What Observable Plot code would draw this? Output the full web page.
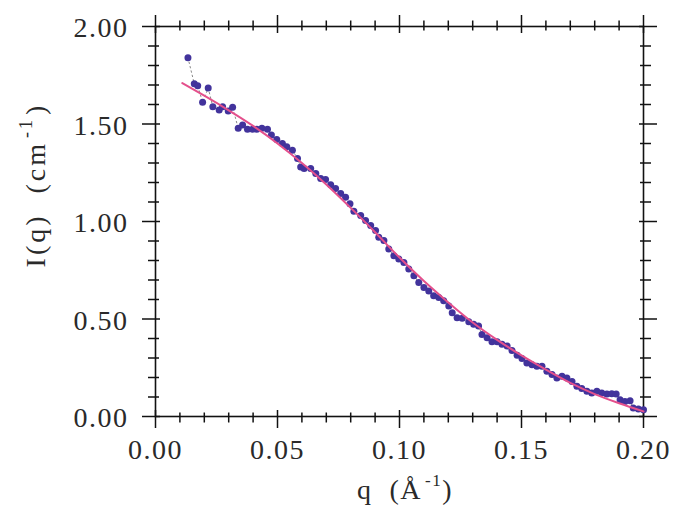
<!DOCTYPE html>
<html><head><meta charset="utf-8">
<script src="https://cdn.jsdelivr.net/npm/d3@7"></script>
<script src="https://cdn.jsdelivr.net/npm/@observablehq/plot@0.6"></script>
<style>body{margin:0;background:#fff}</style>
</head><body><div id="chart"></div>
<script>
// Measured scattering data: q (Å^-1) and I(q) (cm^-1)
const q = [0.0133,0.0159,0.0173,0.0193,0.0216,0.0235,0.0261,0.0275,0.0298,0.0316,
  0.0339,0.0357,0.0377,0.0398,0.0415,0.0436,0.0459,0.0475,0.0497,0.0520,
  0.0538,0.0561,0.0582,0.0595,0.0609,0.0636,0.0657,0.0677,0.0697,0.0718,
  0.0738,0.0759,0.0779,0.0797,0.0813,0.0841,0.0861,0.0882,0.0902,0.0915,
  0.0936,0.0956,0.0977,0.0997,0.1018,0.1038,0.1059,0.1079,0.1100,0.1120,
  0.1140,0.1161,0.1181,0.1202,0.1216,0.1236,0.1257,0.1284,0.1304,0.1324,
  0.1338,0.1359,0.1379,0.1400,0.1420,0.1441,0.1461,0.1482,0.1502,0.1522,
  0.1543,0.1563,0.1584,0.1604,0.1625,0.1645,0.1666,0.1686,0.1707,0.1727,
  0.1747,0.1768,0.1788,0.1809,0.1829,0.1850,0.1870,0.1888,0.1904,0.1924,
  0.1945,0.1958,0.1979,0.2000];
const intensity = [1.840,1.706,1.696,1.612,1.684,1.589,1.572,1.589,1.567,1.586,
  1.478,1.495,1.473,1.473,1.473,1.478,1.473,1.443,1.421,1.400,
  1.383,1.366,1.323,1.280,1.272,1.272,1.246,1.220,1.215,1.189,
  1.169,1.143,1.125,1.091,1.052,1.031,1.005,0.979,0.954,0.919,
  0.902,0.859,0.825,0.808,0.790,0.756,0.722,0.687,0.661,0.644,
  0.619,0.610,0.593,0.567,0.532,0.507,0.504,0.486,0.473,0.464,
  0.421,0.404,0.383,0.383,0.370,0.361,0.339,0.314,0.297,0.275,
  0.266,0.258,0.258,0.232,0.215,0.197,0.206,0.197,0.180,0.155,
  0.143,0.129,0.120,0.129,0.120,0.115,0.117,0.115,0.086,0.077,
  0.081,0.043,0.038,0.035];

// Fitted curve
const fitQ = [0.011,0.02,0.03,0.04,0.05,0.06,0.07,0.08,0.09,0.10,0.11,0.12,0.13,0.14,0.15,0.16,0.17,0.18,0.19,0.20];
const fitI = [1.71,1.645,1.57,1.49,1.40,1.30,1.19,1.07,0.945,0.815,0.695,0.585,0.482,0.393,0.313,0.24,0.172,0.115,0.068,0.026];

// Axis ticks and labels
const xMajor = [0, 0.05, 0.10, 0.15, 0.20];
const xMajorLabels = ["0.00","0.05","0.10","0.15","0.20"];
const xMinor = [0.01,0.02,0.03,0.04,0.06,0.07,0.08,0.09,0.11,0.12,0.13,0.14,0.16,0.17,0.18,0.19];
const yMajor = [0, 0.5, 1.0, 1.5, 2.0];
const yMajorLabels = ["0.00","0.50","1.00","1.50","2.00"];
const yMinor = [0.1,0.2,0.3,0.4,0.6,0.7,0.8,0.9,1.1,1.2,1.3,1.4,1.6,1.7,1.8,1.9];

const xLabelMain = "q\u00a0\u00a0(\u00c5";
const yLabelMain = "I(q)\u00a0\u00a0(cm";
const supText = "-1";
const closeParen = ")";

const data = q.map((d, i) => ({q: d, I: intensity[i]}));
const fit = fitQ.map((d, i) => ({q: d, I: fitI[i]}));

const tickStyle = {stroke: "#111", strokeWidth: 1.5, label: null, tickFormat: () => ""};

const chart = Plot.plot({
  width: 675,
  height: 507,
  marginLeft: 155,
  marginRight: 32,
  marginTop: 26,
  marginBottom: 91,
  style: {fontFamily: "'Liberation Serif', 'Times New Roman', serif", fontSize: "28px", letterSpacing: "1.5px", color: "#2a2a2a", background: "#fff"},
  x: {domain: [0, 0.2]},
  y: {domain: [0, 2]},
  marks: [
    Plot.frame({stroke: "#111", strokeWidth: 1.6}),
    // bottom
    Plot.axisX(xMajor, {...tickStyle, anchor: "bottom", tickSize: 18, dy: -6}),
    Plot.axisX(xMinor, {...tickStyle, anchor: "bottom", tickSize: 10, dy: -3.5}),
    // top
    Plot.axisX(xMajor, {...tickStyle, anchor: "top", tickSize: 18, dy: 6}),
    Plot.axisX(xMinor, {...tickStyle, anchor: "top", tickSize: 10, dy: 3.5}),
    // left
    Plot.axisY(yMajor, {...tickStyle, anchor: "left", tickSize: 18, dx: 5}),
    Plot.axisY(yMinor, {...tickStyle, anchor: "left", tickSize: 11, dx: 4}),
    // right
    Plot.axisY(yMajor, {...tickStyle, anchor: "right", tickSize: 18, dx: -5}),
    Plot.axisY(yMinor, {...tickStyle, anchor: "right", tickSize: 11, dx: -4}),
    // tick labels
    Plot.axisX(xMajor, {anchor: "bottom", tickSize: 0, tickPadding: 23, label: null,
      tickFormat: d => xMajorLabels[xMajor.indexOf(d)], fill: "#2a2a2a"}),
    Plot.axisY(yMajor, {anchor: "left", tickSize: 0, tickPadding: 27, label: null, dy: 2,
      tickFormat: d => yMajorLabels[yMajor.indexOf(d)], fill: "#2a2a2a"}),
    // data
    Plot.line(data, {x: "q", y: "I", stroke: "#888", strokeWidth: 1, strokeDasharray: "1.5,3"}),
    Plot.dot(data, {x: "q", y: "I", r: 3.5, fill: "#42339c", stroke: "none"}),
    Plot.line(fit, {x: "q", y: "I", stroke: "#e4508c", strokeWidth: 2, curve: "natural"})
  ]
});

document.getElementById("chart").appendChild(chart);

const svg = d3.select(chart);
// x-axis title
const xt = svg.append("text")
  .attr("x", 405).attr("y", 499)
  .attr("text-anchor", "middle")
  .attr("fill", "#2a2a2a")
  .style("font-family", "'Liberation Serif', serif")
  .style("font-size", "28px")
  .style("letter-spacing", "1.5px");
xt.append("tspan").text(xLabelMain);
xt.append("tspan").attr("dy", -13).attr("dx", 3).style("font-size", "17px").text(supText);
xt.append("tspan").attr("dy", 13).text(closeParen);

// y-axis title
const yt = svg.append("text")
  .attr("transform", "translate(45,185) rotate(-90)")
  .attr("text-anchor", "middle")
  .attr("fill", "#2a2a2a")
  .style("font-family", "'Liberation Serif', serif")
  .style("font-size", "28px")
  .style("letter-spacing", "3px");
yt.append("tspan").text(yLabelMain);
yt.append("tspan").attr("dy", -13).attr("dx", 3).style("font-size", "18px").text(supText);
yt.append("tspan").attr("dy", 13).attr("dx", 2).text(closeParen);
</script>
</body></html>
